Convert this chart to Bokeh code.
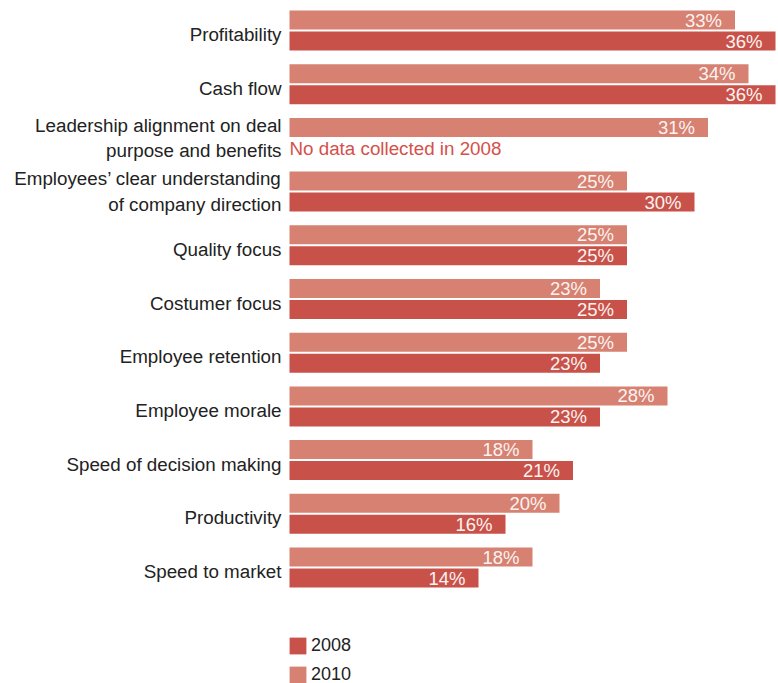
from bokeh.plotting import figure
from bokeh.models import ColumnDataSource, Range1d, Legend, LegendItem
from bokeh.transform import dodge
from bokeh.core.properties import value
from bokeh.embed import file_html
from bokeh.resources import INLINE

categories = [
    "Profitability",
    "Cash flow",
    "Leadership alignment on deal\npurpose and benefits",
    "Employees\u2019 clear understanding\nof company direction",
    "Quality focus",
    "Costumer focus",
    "Employee retention",
    "Employee morale",
    "Speed of decision making",
    "Productivity",
    "Speed to market",
]
values_2010 = [33, 34, 31, 25, 25, 23, 25, 28, 18, 20, 18]
values_2008 = [36, 36, None, 30, 25, 25, 23, 23, 21, 16, 14]
series_names = ["2008", "2010"]
note_text = "No data collected in 2008"

C2008 = "#C8524A"
C2010 = "#D68171"
FONT = "Liberation Sans"

PX = 13.5        # pixels per percentage point
PITCH = 53.7     # pixels per category
idx = list(range(len(categories)))

p = figure(width=778, height=683, output_backend="svg", toolbar_location=None,
           x_range=Range1d(-289 / PX, 489 / PX),
           y_range=Range1d((683 - 30) / PITCH, -30 / PITCH),
           min_border=0)
p.axis.visible = False
p.grid.visible = False
p.outline_line_color = None

off = 10.5 / PITCH
h = 19 / PITCH

src10 = ColumnDataSource(dict(y=idx, v=values_2010,
                              lab=[f"{v}%" for v in values_2010]))
i08 = [i for i, v in zip(idx, values_2008) if v is not None]
v08 = [v for v in values_2008 if v is not None]
src08 = ColumnDataSource(dict(y=i08, v=v08, lab=[f"{v}%" for v in v08]))

r10 = p.hbar(y=dodge("y", -off, range=p.y_range), left=0, right="v", height=h,
             source=src10, fill_color=C2010, line_color=None)
r08 = p.hbar(y=dodge("y", off, range=p.y_range), left=0, right="v", height=h,
             source=src08, fill_color=C2008, line_color=None)

for src, sgn in ((src10, -1), (src08, 1)):
    p.text(x="v", y=dodge("y", sgn * off, range=p.y_range), text="lab", source=src,
           x_offset=-13, text_align="right", text_baseline="middle",
           text_color="#FBF3F0", text_font=value(FONT), text_font_size="18.5px")

# category labels
lab_src = ColumnDataSource(dict(
    y=idx, t=categories,
    yo=[4 if "\n" not in c else 0 for c in categories]))
p.text(x=0, y="y", text="t", source=lab_src, x_offset=-8, y_offset="yo",
       text_align="right", text_baseline="middle", text_color="#222222",
       text_font=value(FONT), text_font_size="18.8px", text_line_height=1.22)

# note for missing 2008 data
miss = [i for i, v in zip(idx, values_2008) if v is None]
note_src = ColumnDataSource(dict(y=[i + off for i in miss], t=[note_text] * len(miss)))
p.text(x=0, y="y", text="t", source=note_src, text_align="left",
       text_baseline="middle", text_color="#D5504A",
       text_font=value(FONT), text_font_size="18.8px")

legend = Legend(items=[LegendItem(label=series_names[0], renderers=[r08]),
                       LegendItem(label=series_names[1], renderers=[r10])],
                location=(287, -2), orientation="vertical",
                glyph_width=21, glyph_height=21, label_height=21,
                spacing=8, padding=0, margin=0, label_standoff=3,
                border_line_color=None, background_fill_alpha=0,
                label_text_font=FONT, label_text_font_size="18px",
                label_text_color="#222222")
p.add_layout(legend, "center")

open("out.html", "w").write(file_html(p, INLINE))
